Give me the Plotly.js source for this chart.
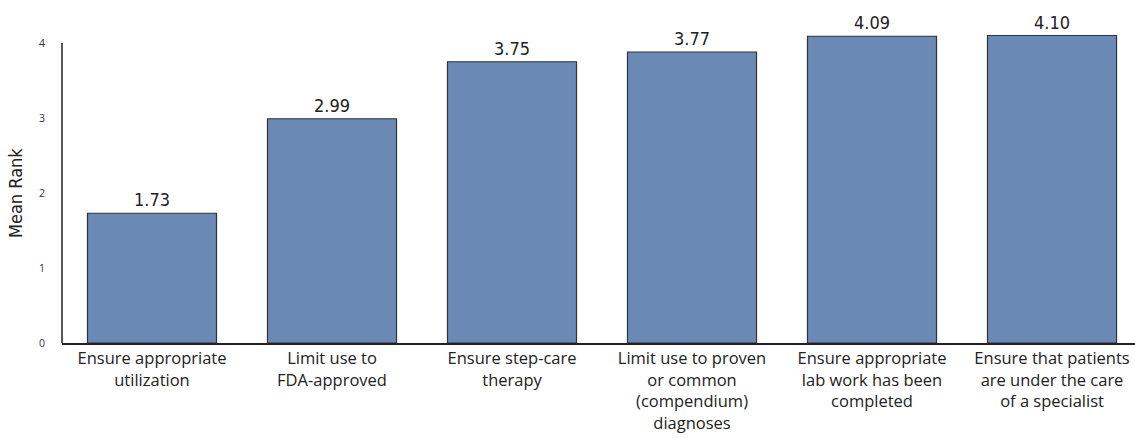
<!DOCTYPE html>
<html>
<head>
<meta charset="utf-8">
<script src="https://cdn.plot.ly/plotly-3.0.1.min.js"></script>
<style>html,body{margin:0;padding:0;background:#fff;}#chart{width:1135px;height:438px;}</style>
</head>
<body>
<div id="chart"></div>
<script>
const categories = [
  "Ensure appropriate<br>utilization",
  "Limit use to<br>FDA-approved",
  "Ensure step-care<br>therapy",
  "Limit use to proven<br>or common<br>(compendium)<br>diagnoses",
  "Ensure appropriate<br>lab work has been<br>completed",
  "Ensure that patients<br>are under the care<br>of a specialist"
];
// bar heights as drawn in the picture
const barHeights = [1.73, 2.99, 3.75, 3.88, 4.09, 4.10];
// value labels as printed above the bars
const valueLabels = ["1.73", "2.99", "3.75", "3.77", "4.09", "4.10"];
const yTicks = [0, 1, 2, 3, 4];
const yTitle = "Mean Rank";

const condensed = "Liberation Sans Narrow, DejaVu Sans Condensed, Arial Narrow, sans-serif";

const trace = {
  type: "bar",
  x: categories,
  y: barHeights,
  text: valueLabels,
  textposition: "outside",
  cliponaxis: false,
  textfont: {family: condensed, size: 18, color: "#222"},
  marker: {color: "#6a8ab5", line: {color: "#333", width: 1.2}},
  hoverinfo: "none"
};

const layout = {
  width: 1135,
  height: 438,
  margin: {l: 62, r: 0, t: 0, b: 95},
  paper_bgcolor: "#fff",
  plot_bgcolor: "#fff",
  showlegend: false,
  bargap: 0.283,
  xaxis: {
    type: "category",
    range: [-0.5, 5.461],
    showline: true,
    linecolor: "#222",
    linewidth: 1.5,
    ticks: "",
    showgrid: false,
    zeroline: false,
    tickfont: {family: "Open Sans, Noto Sans, sans-serif", size: 16.5, color: "#222"},
    automargin: false
  },
  yaxis: {
    range: [0, 4.5733],
    tickvals: yTicks,
    ticktext: yTicks.map(String),
    showline: false,
    showgrid: false,
    zeroline: false,
    ticks: "",
    ticklabelstandoff: 16,
    tickfont: {family: "Open Sans, Noto Sans, sans-serif", size: 10.5, color: "#333"},
    automargin: false
  },
  annotations: [{
    text: yTitle,
    xref: "paper", x: 0, xshift: -47, xanchor: "center",
    yref: "y", y: 2, yanchor: "middle",
    textangle: -90, showarrow: false,
    font: {family: condensed, size: 18, color: "#222"}
  }],
  shapes: [{
    type: "line", xref: "paper", yref: "y",
    x0: 0, x1: 0, y0: 0, y1: 4,
    line: {color: "#222", width: 1.5}
  }]
};

Plotly.newPlot("chart", [trace], layout, {staticPlot: true, displayModeBar: false});
</script>
</body>
</html>
